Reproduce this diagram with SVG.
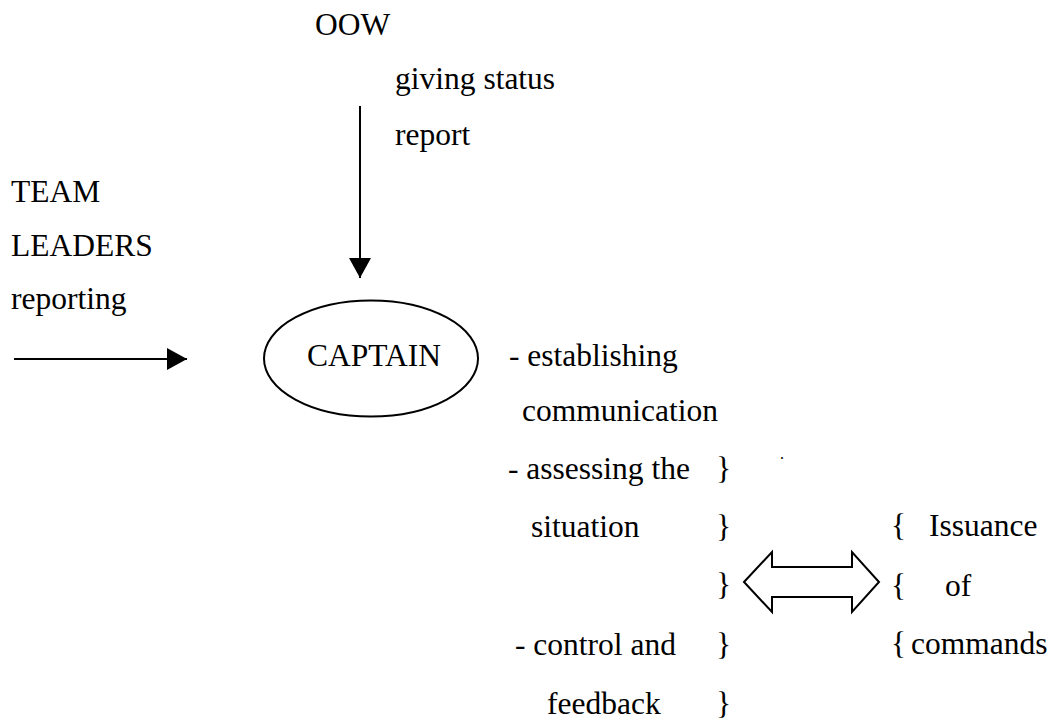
<svg xmlns="http://www.w3.org/2000/svg" width="1055" height="719" viewBox="0 0 1055 719">
<style>
text{font-family:'Liberation Serif','DejaVu Serif',serif;font-size:31.5px;fill:#000}
.ln{stroke:#000;stroke-width:2;fill:none}
</style>
<defs>
<marker id="ah" markerUnits="userSpaceOnUse" markerWidth="20" markerHeight="22" refX="20" refY="11" orient="auto">
<path d="M0,0 L20,11 L0,22 Z" fill="#000"/>
</marker>
</defs>
<rect width="1055" height="719" fill="#fff"/>
<g id="connectors">
<line class="ln" x1="360" y1="106" x2="360" y2="278" marker-end="url(#ah)"/>
<line class="ln" x1="14" y1="359" x2="187" y2="359" marker-end="url(#ah)"/>
<path id="double-arrow" d="M744,582 L772,552 L772,567 L852,567 L852,552 L879,582 L852,612 L852,597 L772,597 L772,612 Z" fill="#fff" stroke="#000" stroke-width="2" stroke-linejoin="miter"/>
</g>
<g id="oow" font-family="Liberation Serif, serif">
<text x="315" y="35">OOW</text>
<text x="395" y="89">giving status</text>
<text x="395" y="145">report</text>
</g>
<g id="team-leaders" font-family="Liberation Serif, serif">
<text x="11" y="202">TEAM</text>
<text x="11" y="256">LEADERS</text>
<text x="11" y="309">reporting</text>
</g>
<g id="captain" font-family="Liberation Serif, serif">
<ellipse cx="371" cy="358.5" rx="107" ry="58" fill="#fff" stroke="#000" stroke-width="2"/>
<text x="307" y="366">CAPTAIN</text>
</g>
<g id="tasks" font-family="Liberation Serif, serif">
<text x="509" y="366">- establishing</text>
<text x="522" y="421">communication</text>
<text x="508" y="479">- assessing the</text>
<text x="716" y="479">}</text>
<text x="531" y="537">situation</text>
<text x="716" y="537">}</text>
<text x="716" y="595">}</text>
<text x="515" y="655">- control and</text>
<text x="716" y="655">}</text>
<text x="547" y="714">feedback</text>
<text x="716" y="714">}</text>
<text x="780" y="459" style="font-size:16px">.</text>
</g>
<g id="issuance" font-family="Liberation Serif, serif">
<text x="891" y="536">{</text>
<text x="929" y="536">Issuance</text>
<text x="891" y="596">{</text>
<text x="945" y="596">of</text>
<text x="891" y="654">{</text>
<text x="911" y="654">commands</text>
</g>
</svg>
